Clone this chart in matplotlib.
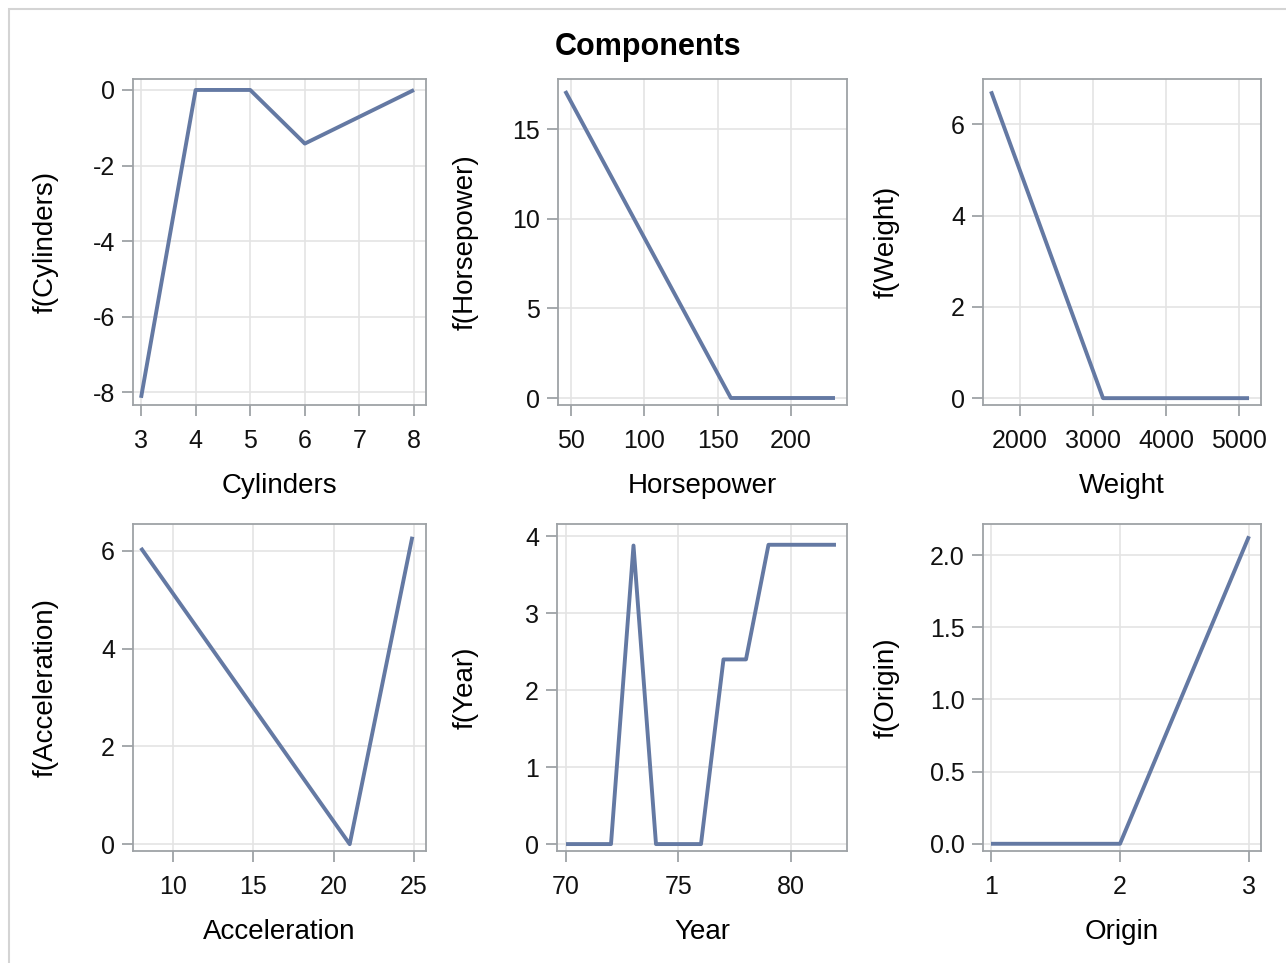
import matplotlib
matplotlib.use("Agg")
import matplotlib.pyplot as plt
from matplotlib.patches import Rectangle

plt.rcParams["font.family"] = ["Liberation Sans", "DejaVu Sans"]

# data
cyl_x = [3, 4, 5, 6, 7, 8]
cyl_y = [-8.15, 0.0, 0.0, -1.42, -0.71, 0.0]

hp_x = [46, 100, 159, 230]
hp_y = [17.12, 8.93, 0.0, 0.0]

wt_x = [1603, 3137, 5137]
wt_y = [6.72, 0.0, 0.0]

acc_x = [8.0, 21.0, 24.9]
acc_y = [6.06, 0.0, 6.29]

year_x = [70, 71, 72, 73, 74, 75, 76, 77, 78, 79, 80, 81, 82]
year_y = [0, 0, 0, 3.88, 0, 0, 0, 2.4, 2.4, 3.89, 3.89, 3.89, 3.89]

orig_x = [1, 2, 3]
orig_y = [0.0, 0.0, 2.13]

W, H = 1286, 963
LINE = "#6479A3"
FRAME = "#9EA2A6"
GRID = "#E4E4E4"

panels = [
    # x, y, xlabel, ylabel, xlim, ylim, xticks, yticks, yfmt, box(l, t, r, b) px, ylabel x px
    (cyl_x, cyl_y, "Cylinders", "f(Cylinders)", (2.853, 8.22), (-8.34, 0.29),
     [3, 4, 5, 6, 7, 8], [-8, -6, -4, -2, 0], "{:.0f}", (133, 79, 426, 405), 46),
    (hp_x, hp_y, "Horsepower", "f(Horsepower)", (41.1, 238.2), (-0.39, 17.79),
     [50, 100, 150, 200], [0, 5, 10, 15], "{:.0f}", (558, 79, 847, 405), 466),
    (wt_x, wt_y, "Weight", "f(Weight)", (1493, 5301), (-0.15, 6.99),
     [2000, 3000, 4000, 5000], [0, 2, 4, 6], "{:.0f}", (983, 79, 1261, 405), 887),
    (acc_x, acc_y, "Acceleration", "f(Acceleration)", (7.51, 25.75), (-0.14, 6.55),
     [10, 15, 20, 25], [0, 2, 4, 6], "{:.0f}", (133, 524, 426, 851), 46),
    (year_x, year_y, "Year", "f(Year)", (69.6, 82.49), (-0.09, 4.16),
     [70, 75, 80], [0, 1, 2, 3, 4], "{:.0f}", (557, 524, 847, 851), 466),
    (orig_x, orig_y, "Origin", "f(Origin)", (0.938, 3.093), (-0.05, 2.215),
     [1, 2, 3], [0.0, 0.5, 1.0, 1.5, 2.0], "{:.1f}", (983, 524, 1261, 851), 887),
]

fig = plt.figure(figsize=(W / 100, H / 100), dpi=100)
fig.patches.append(Rectangle((9 / W, -0.1), 1.2, (H - 9) / H + 0.1,
                             transform=fig.transFigure, fill=False,
                             edgecolor="#D4D4D4", linewidth=1.5))

for x, y, xl, yl, xlim, ylim, xt, yt, yfmt, (l, t, r, b), ylx in panels:
    ax = fig.add_axes([l / W, 1 - b / H, (r - l) / W, (b - t) / H])
    ax.plot(x, y, color=LINE, linewidth=2.8, solid_capstyle="butt", zorder=3)
    ax.set_xlim(*xlim)
    ax.set_ylim(*ylim)
    ax.set_xticks(xt)
    ax.set_yticks(yt)
    ax.set_yticklabels([yfmt.format(v) for v in yt])
    ax.grid(True, color=GRID, linewidth=1.2)
    ax.set_axisbelow(True)
    for s in ax.spines.values():
        s.set_color(FRAME)
        s.set_linewidth(1.3)
    ax.tick_params(length=8, width=1.3, color=FRAME, labelsize=18,
                   labelcolor="#111111")
    ax.tick_params(axis="x", pad=9)
    ax.tick_params(axis="y", pad=5)
    ax.set_xlabel(xl, fontsize=20, labelpad=15)
    ax.set_ylabel(yl, fontsize=20)
    ax.yaxis.set_label_coords(ylx / W, 1 - (t + b) / 2 / H,
                              transform=fig.transFigure)
    ax.yaxis.label.set_va("center")

fig.text(648 / W, 1 - 47 / H, "Components", ha="center", va="center",
         fontsize=22, fontweight="bold")

fig.savefig("out.png", dpi=100)
